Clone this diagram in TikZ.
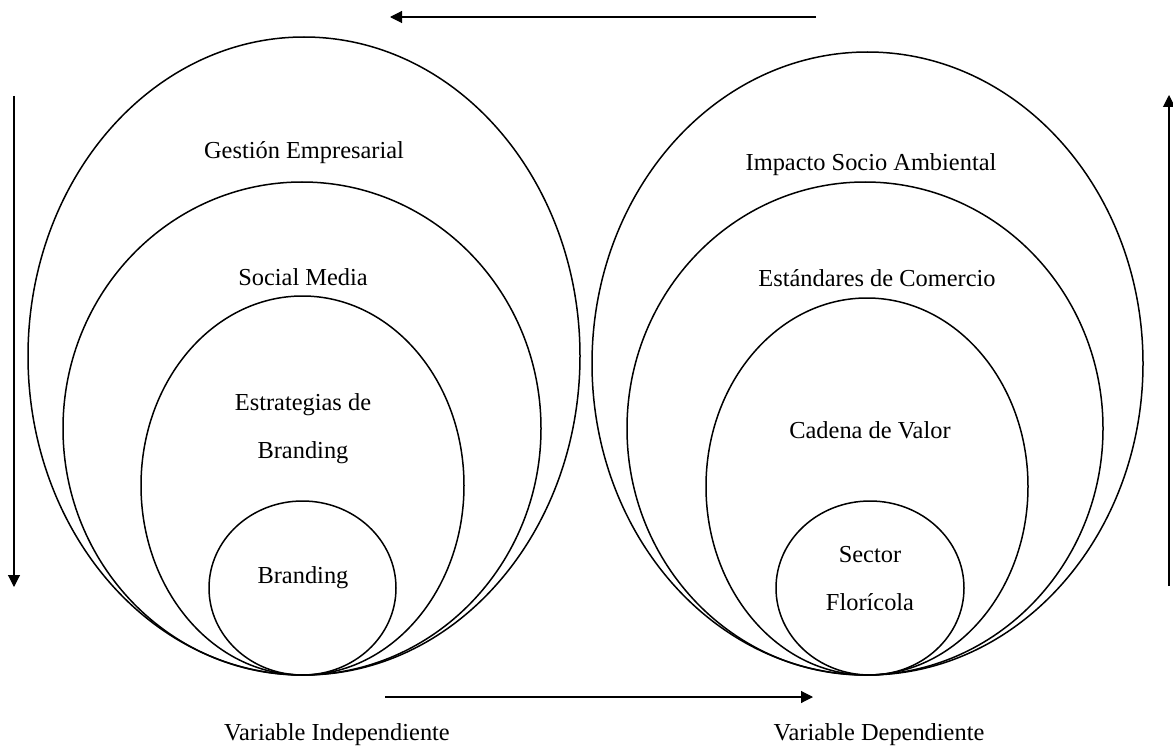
\documentclass[tikz,border=0pt]{standalone}
\usepackage{fontspec}
\setmainfont{Liberation Serif}
\usetikzlibrary{shapes.geometric,arrows.meta}
\begin{document}
\begin{tikzpicture}[x=0.5pt,y=-0.5pt,
  ring/.style={draw=black,line width=0.75pt,ellipse,inner sep=0pt,outer sep=0pt},
  lbl/.style={font=\fontsize{12.2}{14}\selectfont,inner sep=0pt,anchor=center},
  flow/.style={line width=0.55pt,-{Triangle[length=6pt,width=6pt]}}]
\useasboundingbox (0,0) rectangle (1173,749);
% left group
\node[ring,minimum width=276pt,minimum height=319pt] (lo) at (304,356) {};
\node[ring,minimum width=239pt,minimum height=246.5pt] (lm) at (302,428.5) {};
\node[ring,minimum width=161.5pt,minimum height=189.5pt] (li) at (302.5,485.5) {};
\node[ring,minimum width=93.5pt,minimum height=87pt] (lc) at (302.5,588) {};
% right group
\node[ring,minimum width=275.5pt,minimum height=311.5pt] (ro) at (867.5,363.5) {};
\node[ring,minimum width=238pt,minimum height=246.5pt] (rm) at (865,428.5) {};
\node[ring,minimum width=161pt,minimum height=188.5pt] (ri) at (867,486.5) {};
\node[ring,minimum width=94pt,minimum height=87pt] (rc) at (870,588) {};
% labels
\node[lbl] (t1) at (304,153) {Gestión Empresarial};
\node[lbl] (t2) at (303,277) {Social Media};
\node[lbl] (t3) at (303,405) {Estrategias de};
\node[lbl] (t4) at (303,453) {Branding};
\node[lbl] (t5) at (303,578) {Branding};
\node[lbl] (t6) at (871,165) {Impacto Socio Ambiental};
\node[lbl] (t7) at (877,278) {Estándares de Comercio};
\node[lbl] (t8) at (870,430) {Cadena de Valor};
\node[lbl] (t9) at (870,555) {Sector};
\node[lbl] (t10) at (870,602) {Florícola};
\node[lbl] (vi) at (337,735) {Variable Independiente};
\node[lbl] (vd) at (879,735) {Variable Dependiente};
% arrows
\coordinate (a1s) at (816,17); \coordinate (a1e) at (390,17);
\coordinate (a2s) at (14,96);  \coordinate (a2e) at (14,587);
\coordinate (a3s) at (1169,586); \coordinate (a3e) at (1169,95);
\coordinate (a4s) at (385,697); \coordinate (a4e) at (813,697);
\draw[flow] (a1s) -- (a1e);
\draw[flow] (a2s) -- (a2e);
\draw[flow] (a3s) -- (a3e);
\draw[flow] (a4s) -- (a4e);
\end{tikzpicture}
\end{document}
